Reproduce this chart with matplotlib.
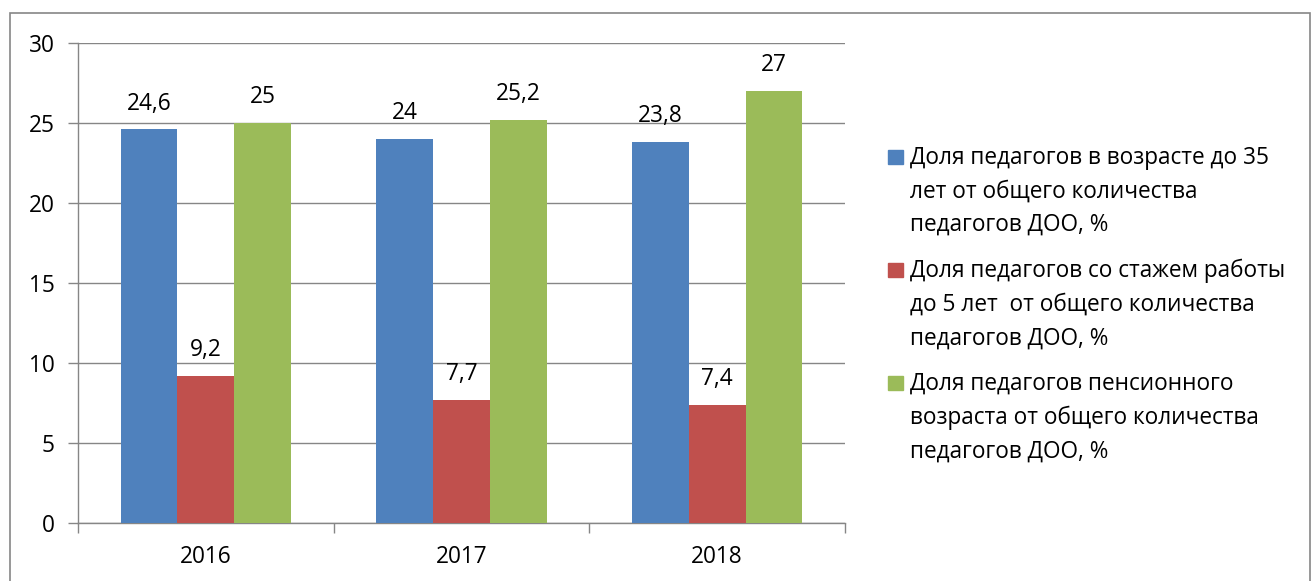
import matplotlib
matplotlib.use("Agg")
import matplotlib.pyplot as plt
from matplotlib.patches import Rectangle
import numpy as np

plt.rcParams['font.family'] = ['Open Sans', 'DejaVu Sans']

years = ['2016', '2017', '2018']
series_names = [
    'Доля педагогов в возрасте до 35\nлет от общего количества\nпедагогов ДОО, %',
    'Доля педагогов со стажем работы\nдо 5 лет  от общего количества\nпедагогов ДОО, %',
    'Доля педагогов пенсионного\nвозраста от общего количества\nпедагогов ДОО, %',
]
young = [24.6, 24.0, 23.8]
novice = [9.2, 7.7, 7.4]
pension = [25.0, 25.2, 27.0]
value_labels = [['24,6', '24', '23,8'], ['9,2', '7,7', '7,4'], ['25', '25,2', '27']]
colors = ['#4F81BD', '#C0504D', '#9BBB59']

FS = 16.3
W, H = 1316, 581
fig = plt.figure(figsize=(W / 100, H / 100), dpi=100)
fig.patches.append(Rectangle((10 / W, -0.01), 1300 / W, (H - 13) / H + 0.01,
                             transform=fig.transFigure, fill=False,
                             edgecolor='#868686', lw=1.2))

ax = fig.add_axes([78 / W, (H - 523) / H, (845 - 78) / W, (523 - 43) / H])
gray = '#868686'
x = np.arange(len(years))
bw = 1 / 4.5
data = [young, novice, pension]
for i, (vals, c) in enumerate(zip(data, colors)):
    pos = x + (i - 1) * bw
    ax.bar(pos, vals, width=bw, color=c, zorder=3)
    for p, v, lab in zip(pos, vals, value_labels[i]):
        ax.annotate(lab, (p, v), xytext=(0, 10), textcoords='offset points',
                    ha='center', va='bottom', fontsize=FS, color='black')

ax.set_xlim(-0.5, 2.5)
ax.set_ylim(0, 30)
ax.set_yticks(range(0, 31, 5))
ax.yaxis.grid(True, color=gray, lw=1, zorder=0)
ax.set_axisbelow(True)
ax.set_xticks(x)
ax.set_xticklabels(years)
ax.set_xticks(np.arange(-0.5, 3, 1), minor=True)
ax.tick_params(axis='x', which='major', length=0, pad=16, labelsize=FS)
ax.tick_params(axis='x', which='minor', length=7, color=gray, width=1)
ax.tick_params(axis='y', length=7, color=gray, width=1, labelsize=FS, pad=10)
for s in ['top', 'right']:
    ax.spines[s].set_visible(False)
for s in ['left', 'bottom']:
    ax.spines[s].set_color(gray)
    ax.spines[s].set_linewidth(1)

# legend
tops = [150, 263, 376]
for name, c, t in zip(series_names, colors, tops):
    fig.patches.append(Rectangle((888 / W, (H - t - 14) / H), 15 / W, 14 / H,
                                 transform=fig.transFigure, color=c))
    fig.text(910 / W, (H - t + 4) / H, name, ha='left', va='top', fontsize=FS,
             linespacing=1.53, color='black')

fig.savefig('out.png', dpi=100)
